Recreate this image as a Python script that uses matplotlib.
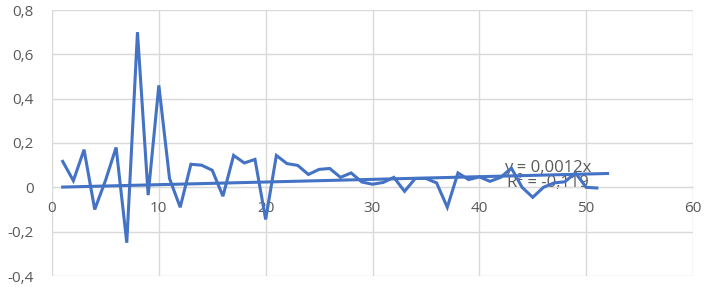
import matplotlib
matplotlib.use('Agg')
import matplotlib.pyplot as plt
from matplotlib.ticker import FuncFormatter

# values
x_vals = list(range(1, 52))
y_vals = [0.117, 0.03, 0.17, -0.10, 0.03, 0.18, -0.25, 0.70, -0.035, 0.46,
          0.04, -0.09, 0.104, 0.10, 0.077, -0.04, 0.144, 0.11, 0.126, -0.145,
          0.144, 0.107, 0.099, 0.058, 0.081, 0.085, 0.045, 0.065, 0.024, 0.014,
          0.022, 0.045, -0.018, 0.04, 0.04, 0.02, -0.09, 0.065, 0.035, 0.047,
          0.027, 0.045, 0.087, 0.0, -0.045, 0.0, 0.02, 0.025, 0.065, 0.0,
          -0.003]
slope = 0.0012
trend_x = [1, 52]
eq_text = 'y = 0,0012x'
r2_text = 'R² = -0,119'

blue = '#4472C4'
gray = '#595959'
grid = '#D9D9D9'

plt.rcParams['font.family'] = ['Open Sans', 'DejaVu Sans']

fig = plt.figure(figsize=(7.08, 2.87), dpi=100)
ax = fig.add_axes([52/708, 11/287, 641/708, 266/287])

ax.plot(x_vals, y_vals, color=blue, lw=2.2, solid_joinstyle='miter', zorder=3)
ax.plot(trend_x, [slope * t for t in trend_x], color=blue, lw=2.2, zorder=3)

ax.set_xlim(0, 60)
ax.set_ylim(-0.4, 0.8)
ax.set_xticks(range(0, 61, 10))
ax.set_yticks([-0.4, -0.2, 0, 0.2, 0.4, 0.6, 0.8])

fmt = FuncFormatter(lambda v, p: ('%g' % round(v, 2)).replace('.', ','))
ax.xaxis.set_major_formatter(fmt)
ax.yaxis.set_major_formatter(fmt)

ax.grid(True, color=grid, lw=1)
ax.set_axisbelow(True)
for s in ['top', 'right', 'left']:
    ax.spines[s].set_visible(False)
ax.spines['bottom'].set_position(('data', 0))
ax.spines['bottom'].set_color(grid)
ax.tick_params(axis='both', length=0, labelsize=11, colors=gray)
ax.tick_params(axis='x', pad=10)
ax.tick_params(axis='y', pad=13)

# trendline label sits under the data line, as in the original
ax.text(42.3, 0.086, eq_text, fontsize=12, color=gray, ha='left', va='center', zorder=2)
ax.text(42.6, 0.018, r2_text, fontsize=12, color=gray, ha='left', va='center', zorder=2)

fig.savefig('out.png', dpi=100)
